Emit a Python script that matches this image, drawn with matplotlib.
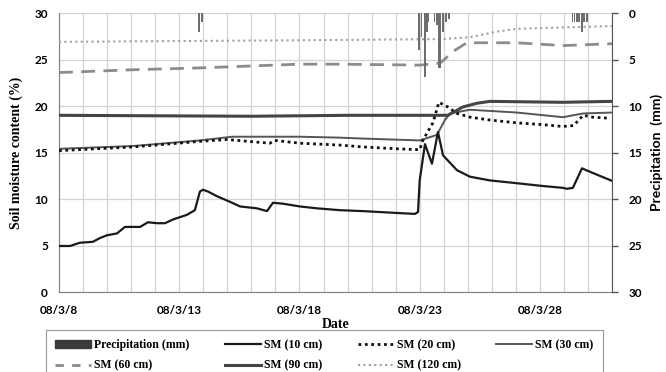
import numpy as np
import matplotlib
matplotlib.use("Agg")
import matplotlib.pyplot as plt
from matplotlib.patches import Patch
from matplotlib.lines import Line2D

# days in March 2008
rain_day = [13.82, 13.95,
            22.97, 23.09, 23.22, 23.30, 23.38, 23.63, 23.72, 23.80, 23.88, 23.97, 24.09, 24.22,
            29.37, 29.45, 29.53, 29.58, 29.66, 29.75, 29.79, 29.87, 29.95, 29.99]
rain_mm = [2.0, 1.0,
           4.0, 2.6, 6.9, 2.0, 1.0, 1.0, 1.3, 5.9, 5.9, 2.0, 1.0, 0.6,
           1.0, 1.0, 1.0, 1.0, 1.0, 2.0, 1.0, 1.0, 1.0, 1.0]

sm10_day = [8.0, 8.46, 8.87, 9.41, 9.7, 9.99, 10.41, 10.74, 11.37, 11.70, 12.07, 12.41, 12.74,
            13.32, 13.65, 13.86, 13.99, 14.2, 14.57, 15.11, 15.53, 16.23, 16.65, 16.9, 17.31,
            18.02, 18.72, 19.68, 20.64, 22.05, 22.8, 22.93, 23.0, 23.22, 23.51, 23.76, 23.97,
            24.55, 25.09, 25.92, 27.04, 28.12, 28.96, 29.12, 29.37, 29.75, 30.2, 31.0]
sm10 = [4.95, 4.95, 5.3, 5.4, 5.8, 6.1, 6.3, 7.0, 7.0, 7.5, 7.4, 7.4, 7.8,
        8.3, 8.8, 10.8, 11.0, 10.8, 10.3, 9.7, 9.2, 9.0, 8.7, 9.6, 9.5,
        9.2, 9.0, 8.8, 8.7, 8.5, 8.4, 8.6, 12.0, 15.9, 13.8, 17.2, 14.7,
        13.1, 12.4, 12.0, 11.7, 11.4, 11.2, 11.1, 11.2, 13.3, 12.8, 11.95]

sm20_day = [8.0, 11.08, 13.86, 14.98, 16.77, 16.98, 18.02, 19.68, 20.64, 22.05, 23.0, 23.13,
            23.55, 23.8, 24.17, 24.55, 25.1, 25.9, 27.0, 28.1, 28.95, 29.4, 29.8, 30.2, 30.8]
sm20 = [15.2, 15.6, 16.2, 16.4, 16.0, 16.3, 16.0, 15.8, 15.6, 15.4, 15.3, 16.3,
        18.2, 20.4, 19.9, 19.2, 18.8, 18.5, 18.2, 18.0, 17.8, 17.9, 19.0, 18.8, 18.7]

sm30_day = [8.0, 11.08, 13.86, 15.2, 18.0, 19.68, 20.64, 23.0, 23.72, 24.05, 24.26, 25.09,
            27.04, 28.96, 29.79, 31.0]
sm30 = [15.4, 15.7, 16.3, 16.7, 16.7, 16.6, 16.5, 16.3, 16.9, 18.5, 19.2, 19.6,
        19.3, 18.8, 19.2, 19.3]

sm60_day = [8.0, 11.08, 13.86, 18.0, 19.68, 23.0, 23.84, 24.47, 24.96, 27.04, 28.96, 31.0]
sm60 = [23.6, 23.9, 24.1, 24.5, 24.5, 24.4, 24.6, 26.0, 26.8, 26.8, 26.5, 26.7]

sm90_day = [8.0, 12.0, 16.0, 20.0, 24.17, 24.8, 25.38, 25.92, 28.96, 31.0]
sm90 = [19.0, 18.95, 18.9, 19.0, 19.0, 19.9, 20.3, 20.5, 20.4, 20.5]

sm120_day = [8.0, 19.68, 23.97, 25.09, 26.21, 27.04, 28.29, 31.0]
sm120 = [26.9, 27.1, 27.2, 27.4, 28.0, 28.3, 28.4, 28.6]

tick_days = [8, 13, 18, 23, 28]
tick_labels = ["08/3/8", "08/3/13", "08/3/18", "08/3/23", "08/3/28"]

serif = "Liberation Serif"
sans = "Lato"

fig = plt.figure(figsize=(6.66, 3.72), dpi=100)
ax = fig.add_axes([0.0886, 0.215, 0.8304, 0.75])

ax.plot(sm10_day, sm10, color="#1a1a1a", lw=1.6, zorder=5)
ax.plot(sm20_day, sm20, color="#111111", lw=2.0, ls=(0, (1, 1.3)), zorder=5)
ax.plot(sm30_day, sm30, color="#555555", lw=1.4, zorder=4)
ax.plot(sm60_day, sm60, color="#8c8c8c", lw=2.0, ls=(0, (5, 3)), zorder=4)
ax.plot(sm90_day, sm90, color="#444444", lw=2.2, zorder=4)
ax.plot(sm120_day, sm120, color="#a0a0a0", lw=1.5, ls=(0, (1, 1.6)), zorder=4)

ax.set_xlim(8, 31)
ax.set_ylim(0, 30)
ax.set_yticks([0, 5, 10, 15, 20, 25, 30])
ax.set_xticks(tick_days)
ax.set_xticklabels(tick_labels)
ax.set_xticks(np.arange(8, 32), minor=True)
ax.grid(True, which="both", axis="x", color="#d4d4d4", lw=0.9)
ax.grid(True, which="major", axis="y", color="#d4d4d4", lw=0.9)
ax.set_axisbelow(True)
ax.tick_params(axis="x", which="both", length=0, pad=9)
ax.tick_params(axis="y", which="both", length=0, pad=8)
for lab in ax.get_xticklabels() + ax.get_yticklabels():
    lab.set_fontfamily(sans)
    lab.set_fontweight("bold")
    lab.set_fontsize(8.5)
for s in ["top", "right"]:
    ax.spines[s].set_visible(False)
ax.spines["left"].set_color("#7f7f7f")
ax.spines["bottom"].set_color("#7f7f7f")
ax.set_xlabel("Date", fontfamily=serif, fontweight="bold", fontsize=10, labelpad=2)
ax.set_ylabel("Soil moisture content (%)", fontfamily=serif, fontweight="bold", fontsize=10, labelpad=8)

ax2 = ax.twinx()
ax2.bar(rain_day, rain_mm, width=0.05, color="#6e6e6e", zorder=6)
ax2.set_ylim(30, 0)
ax2.set_xlim(8, 31)
ax2.set_yticks([0, 5, 10, 15, 20, 25, 30])
ax2.tick_params(axis="y", length=4, width=1, color="#555555", pad=8)
for lab in ax2.get_yticklabels():
    lab.set_fontfamily(sans)
    lab.set_fontweight("bold")
    lab.set_fontsize(8.5)
for s in ["top", "left", "bottom"]:
    ax2.spines[s].set_visible(False)
ax2.spines["right"].set_color("#555555")
ax2.set_ylabel("Precipitation  (mm)", fontfamily=sans, fontweight="bold", fontsize=10, labelpad=6)

handles = [
    Patch(color="#3a3a3a"),
    Line2D([], [], color="#8c8c8c", lw=2.0, ls=(0, (3, 3))),
    Line2D([], [], color="#1a1a1a", lw=1.6),
    Line2D([], [], color="#444444", lw=2.2),
    Line2D([], [], color="#111111", lw=2.0, ls=(0, (1, 1.3))),
    Line2D([], [], color="#a0a0a0", lw=1.5, ls=(0, (1, 1.6))),
    Line2D([], [], color="#555555", lw=1.4),
]
labels = ["Precipitation (mm)", "SM (60 cm)", "SM (10 cm)", "SM (90 cm)",
          "SM (20 cm)", "SM (120 cm)", "SM (30 cm)"]
leg = fig.legend(handles, labels, ncol=4, loc="upper left", bbox_to_anchor=(0.069, 0.113),
                 borderaxespad=0,
                 prop={"family": serif, "weight": "bold", "size": 8.5},
                 frameon=True, fancybox=False, edgecolor="#7f7f7f",
                 handlelength=3.0, handletextpad=0.3, columnspacing=3.0,
                 borderpad=0.8, labelspacing=0.7)
leg.get_frame().set_linewidth(0.8)

fig.savefig("out.png", dpi=100)
